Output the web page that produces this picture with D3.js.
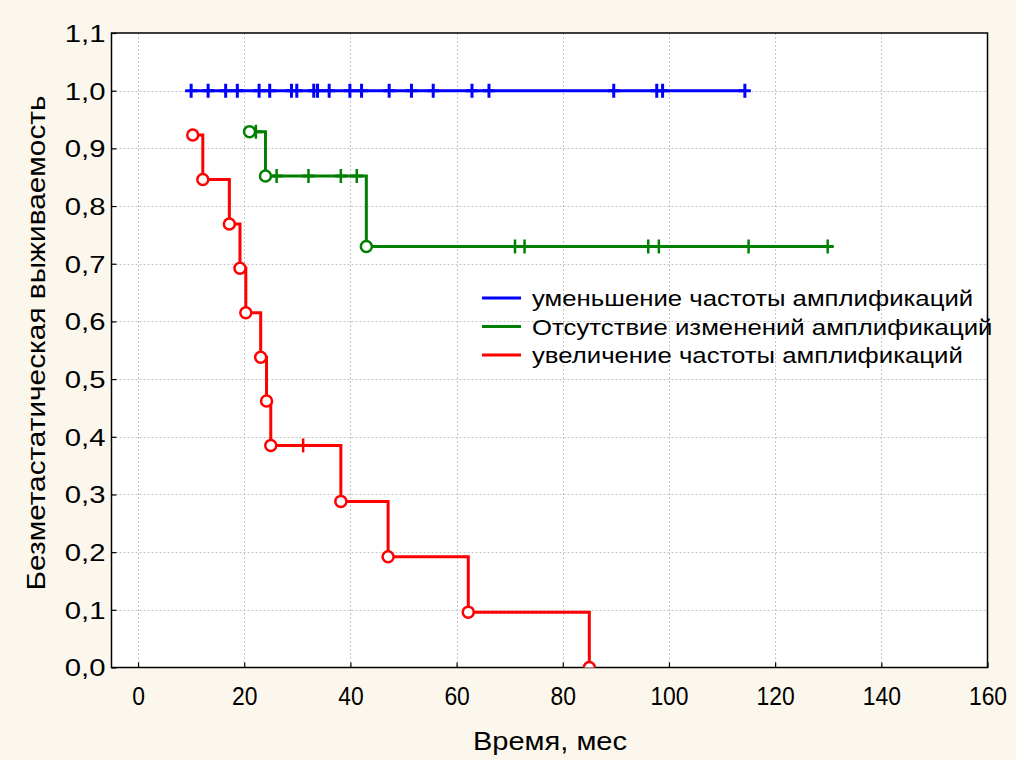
<!DOCTYPE html>
<html><head><meta charset="utf-8">
<script src="https://cdn.jsdelivr.net/npm/d3@7"></script>
<style>body{margin:0;background:#fcf7ec}svg{display:block}</style>
</head><body>
<svg id="c" width="1016" height="760"></svg>
<script>
// ---- data ----
const xTicks = [0, 20, 40, 60, 80, 100, 120, 140, 160];
const yTicks = [0, 0.1, 0.2, 0.3, 0.4, 0.5, 0.6, 0.7, 0.8, 0.9, 1.0, 1.1];
const seriesNames = ["уменьшение частоты амплификаций", "Отсутствие изменений амплификаций", "увеличение частоты амплификаций"];
const seriesColors = ["#0000ff", "#008000", "#ff0000"];
// blue: no events, only censored
const blueEventTimes = [];
const blueEventValues = [];
const blueStart = [10, 1.0];
const blueCensorTimes = [10, 13.2, 16.5, 18.7, 22.8, 24.8, 28.9, 29.9, 33.1, 33.8, 36, 39.9, 42.1, 47.3, 51.5, 55.6, 62.9, 66.1, 89.6, 97.7, 98.8, 114.3];
// green
const greenEventTimes = [21, 24, 43];
const greenEventValues = [0.929, 0.852, 0.73];
const greenCensorTimes = [22.2, 26.1, 32.1, 38.2, 41.2, 71, 72.8, 96.1, 98.1, 115, 129.9];
// red
const redEventTimes = [10.3, 12.2, 17.2, 19.2, 20.3, 23.1, 24.2, 25, 38.2, 47.1, 62.2, 85];
const redEventValues = [0.923, 0.846, 0.769, 0.692, 0.615, 0.538, 0.462, 0.385, 0.288, 0.192, 0.096, 0.0];
const redCensorTimes = [31.1];

// ---- layout ----
const L = 111.5, R = 987.5, T = 33, B = 667.5;
const x = d3.scaleLinear().domain([-5, 160]).range([L, R]);
const y = d3.scaleLinear().domain([0, 1.1]).range([B, T]);
const svg = d3.select("#c");
const fmt = d => d3.format(".1f")(d).replace(".", ",");
const FF = "Liberation Sans, Arial, sans-serif";

svg.append("rect").attr("x", L).attr("y", T).attr("width", R - L).attr("height", B - T).attr("fill", "#fff");

// grid
const grid = svg.append("g").attr("stroke", "#c4c4c4").attr("stroke-width", 1).attr("stroke-dasharray", "2,2");
grid.selectAll("line.v").data(xTicks.filter(d => d < 160)).join("line").attr("class", "v")
  .attr("x1", d => Math.round(x(d)) + 0.5).attr("x2", d => Math.round(x(d)) + 0.5).attr("y1", T).attr("y2", B);
grid.selectAll("line.h").data(yTicks.filter(d => d > 0 && d < 1.1)).join("line").attr("class", "h")
  .attr("y1", d => Math.round(y(d)) + 0.5).attr("y2", d => Math.round(y(d)) + 0.5).attr("x1", L).attr("x2", R);

// axes
const xAxis = svg.append("g").attr("transform", `translate(0,${B})`)
  .call(d3.axisBottom(x).tickValues(xTicks).tickSizeInner(-5).tickSizeOuter(0).tickFormat(d3.format("d")));
xAxis.select(".domain").remove();
xAxis.selectAll(".tick line").attr("stroke", "#000").attr("stroke-width", 1.2);
xAxis.selectAll(".tick text").attr("y", 0).attr("dy", "0.35em")
  .attr("font-family", FF).attr("font-size", 26).attr("fill", "#000")
  .attr("transform", "translate(0,28) scale(0.88,1)");

const yAxis = svg.append("g").attr("transform", `translate(${L},0)`)
  .call(d3.axisLeft(y).tickValues(yTicks).tickSizeInner(-5).tickSizeOuter(0).tickFormat(fmt));
yAxis.select(".domain").remove();
yAxis.selectAll(".tick line").attr("stroke", "#000").attr("stroke-width", 1.2);
yAxis.selectAll(".tick text").attr("x", 0).attr("dy", "0.35em").attr("text-anchor", "end")
  .attr("font-family", FF).attr("font-size", 24).attr("fill", "#000")
  .attr("transform", "translate(-6,0) scale(1.22,1)");

// frame
svg.append("rect").attr("x", L).attr("y", T).attr("width", R - L).attr("height", B - T)
  .attr("fill", "none").attr("stroke", "#000").attr("stroke-width", 1.5);

// titles
svg.append("text").attr("x", 550).attr("y", 741).attr("dy", "0.35em").attr("text-anchor", "middle")
  .attr("font-family", FF).attr("font-size", 25).attr("fill", "#000")
  .attr("textLength", 154).attr("lengthAdjust", "spacingAndGlyphs").text("Время, мес");
svg.append("text").attr("transform", "translate(36,343) rotate(-90)").attr("dy", "0.35em").attr("text-anchor", "middle")
  .attr("font-family", FF).attr("font-size", 25).attr("fill", "#000")
  .attr("textLength", 495).attr("lengthAdjust", "spacingAndGlyphs").text("Безметастатическая выживаемость");

// clip
svg.append("clipPath").attr("id", "clip").append("rect").attr("x", L).attr("y", T).attr("width", R - L).attr("height", B - T);
const plot = svg.append("g").attr("clip-path", "url(#clip)");
const line = d3.line().x(d => x(d[0])).y(d => y(d[1])).curve(d3.curveStepAfter);

function buildPts(evT, evV, cT, start) {
  const pts = [];
  evT.forEach((t, i) => pts.push([t, evV[i], "e"]));
  const all = [];
  if (start) all.push([start[0], start[1], "s"]);
  const merged = pts.concat(cT.map(t => [t, null, "c"])).sort((a, b) => a[0] - b[0]);
  let cur = start ? start[1] : null;
  merged.forEach(p => {
    if (p[2] === "e") { cur = p[1]; all.push(p); }
    else { all.push([p[0], cur, "c"]); }
  });
  return all;
}

const series = [
  buildPts(blueEventTimes, blueEventValues, blueCensorTimes, blueStart),
  buildPts(greenEventTimes, greenEventValues, greenCensorTimes, null),
  buildPts(redEventTimes, redEventValues, redCensorTimes, null)
];

series.forEach((pts, i) => {
  const col = seriesColors[i];
  const g = plot.append("g");
  g.append("path").attr("d", line(pts.map(p => [p[0], p[1]]))).attr("fill", "none")
    .attr("stroke", col).attr("stroke-width", 3);
  pts.filter(p => p[2] === "c").forEach(p => {
    const cx = x(p[0]), cy = y(p[1]);
    g.append("line").attr("x1", cx).attr("x2", cx).attr("y1", cy - 7).attr("y2", cy + 7)
      .attr("stroke", col).attr("stroke-width", i === 0 ? 3 : 2.5);
    g.append("line").attr("x1", cx - 6).attr("x2", cx + 6).attr("y1", cy).attr("y2", cy)
      .attr("stroke", col).attr("stroke-width", 3);
  });
  g.selectAll("circle").data(pts.filter(p => p[2] === "e")).join("circle")
    .attr("cx", p => x(p[0])).attr("cy", p => y(p[1])).attr("r", 5.5)
    .attr("fill", "#fff").attr("stroke", col).attr("stroke-width", 2.5);
});

// legend
const leg = svg.append("g");
seriesNames.forEach((n, i) => {
  const ly = 298 + i * 28.5;
  leg.append("line").attr("x1", 482).attr("x2", 521).attr("y1", ly).attr("y2", ly)
    .attr("stroke", seriesColors[i]).attr("stroke-width", 3);
  leg.append("text").attr("x", 0).attr("y", 0).attr("dy", "0.35em")
    .attr("transform", `translate(532,${ly}) scale(1.12,1)`)
    .attr("font-family", FF).attr("font-size", 23).attr("fill", "#000")
    .text(n);
});
</script>
</body></html>
